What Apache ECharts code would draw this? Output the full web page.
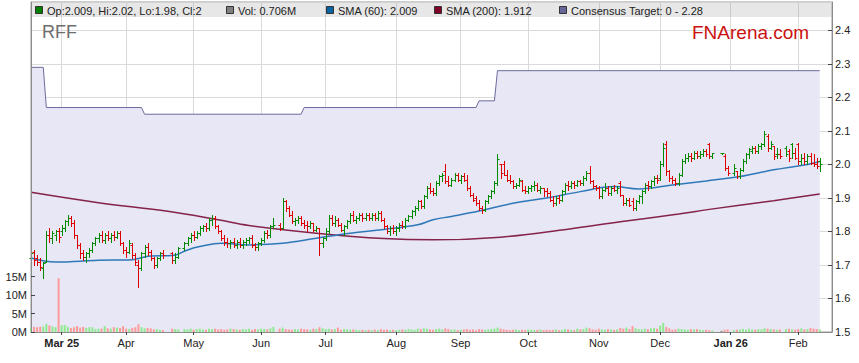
<!DOCTYPE html>
<html><head><meta charset="utf-8">
<script src="https://cdn.jsdelivr.net/npm/echarts@6/dist/echarts.min.js"></script>
<style>html,body{margin:0;padding:0;background:#fff}#c{width:859px;height:363px}</style>
</head><body><div id="c"></div>
<script>
// ---------- DATA ----------
const firstDate = '2025-02-17';   // first weekday slot
const slotCount = 262;            // weekday slots on the axis (incl. padding at the end)
const open = [
1.72,1.74,1.72,1.71,1.69, 1.71,1.79,1.78,1.79,1.80, 1.80,1.81,1.83,1.84,1.825, 1.79,1.76,1.735,1.725,1.735,
1.745,1.765,1.78,1.79,1.775, 1.79,1.78,1.79,1.785,1.795, 1.765,1.745,1.74,1.76,1.73, 1.70,1.69,1.735,1.755,1.74,
1.72,1.70,1.72,1.735,null, null,1.735,1.715,1.725,null, 1.75,1.765,1.78,1.79,1.785, 1.795,1.81,1.815,1.81,1.835,
1.84,1.815,1.80,1.78,1.77, 1.765,1.77,1.76,1.77,1.76, 1.77,1.775,1.78,1.76,1.755, 1.765,1.775,1.795,1.79,1.815,
null,1.82,1.81,1.89,1.87, 1.85,1.83,1.835,1.84,1.825, 1.82,1.815,1.825,1.805,1.81, 1.765,1.78,1.80,1.84,1.825,
1.835,1.82,1.805,1.815,1.83, 1.85,1.835,1.84,1.85,1.84, 1.85,1.84,1.85,1.84,1.855, 1.835,1.815,1.80,1.81,1.80,
1.81,1.82,1.815,1.835,1.845, 1.86,1.87,1.89,1.875,1.905, 1.93,1.92,1.915,1.945,1.965, 1.98,1.95,1.94,1.955,1.97,
1.955,1.965,1.955,1.93,1.91, 1.90,1.885,1.87,1.865,1.89, 1.905,1.92,1.945,2.00,2.00, 1.97,1.955,1.95,1.935,1.94,
1.95,1.925,1.92,1.93,1.935, 1.94,1.925,1.93,1.92,1.915, 1.895,1.885,1.90,1.895,1.92, 1.94,1.935,1.945,1.94,1.95,
1.945,1.96,1.975,1.95,1.935, 1.93,1.905,1.925,1.93,1.915, 1.93,1.925,1.945,1.91,1.885, 1.895,1.89,1.87,1.89,1.905,
1.92,1.94,1.935,1.95,1.96, 1.96,2.00,2.06,1.98,1.96, 1.955,1.945,1.97,2.01,2.02, 2.025,2.02,2.035,2.025,2.03,
2.04,2.06,2.025,null,null, 2.035,2.025,1.99,null,1.975, 1.98,1.965,1.985,2.01,2.03, 2.04,2.05,2.04,2.055,2.06,
2.085,2.05,2.055,2.03,2.03, null,2.05,2.04,2.06,2.035, 2.06,2.01,2.02,2.01,2.025, 2.005,2.0,2.009];
const high = [
1.74,1.745,1.73,1.72,1.71, 1.80,1.81,1.80,1.805,1.81, 1.82,1.835,1.848,1.845,1.835, 1.79,1.765,1.745,1.74,1.75,
1.77,1.785,1.795,1.80,1.795, 1.80,1.795,1.80,1.80,1.80, 1.77,1.755,1.775,1.765,1.735, 1.715,1.74,1.76,1.765,1.745,
1.725,1.725,1.74,1.745,null, null,1.74,1.735,1.755,null, 1.77,1.785,1.795,1.80,1.80, 1.815,1.82,1.825,1.84,1.848,
1.845,1.82,1.805,1.79,1.78, 1.775,1.78,1.775,1.78,1.775, 1.78,1.785,1.79,1.765,1.77, 1.78,1.80,1.805,1.82,1.84,
null,1.825,1.90,1.895,1.875, 1.86,1.84,1.845,1.845,1.835, 1.83,1.83,1.825,1.815,1.81, 1.785,1.81,1.85,1.85,1.845,
1.84,1.825,1.82,1.835,1.855, 1.86,1.845,1.855,1.855,1.855, 1.855,1.855,1.855,1.86,1.86, 1.84,1.82,1.815,1.82,1.815,
1.825,1.83,1.84,1.85,1.865, 1.875,1.895,1.895,1.91,1.935, 1.945,1.93,1.95,1.97,1.975, 2.00,1.965,1.96,1.975,1.975,
1.97,1.975,1.97,1.935,1.915, 1.905,1.895,1.875,1.895,1.91, 1.925,1.95,2.03,2.00,2.01, 1.985,1.97,1.955,1.945,1.96,
1.955,1.935,1.935,1.94,1.95, 1.945,1.935,1.93,1.93,1.92, 1.905,1.905,1.91,1.925,1.945, 1.95,1.95,1.95,1.955,1.955,
1.965,1.98,1.995,1.955,1.94, 1.935,1.93,1.945,1.935,1.935, 1.94,1.935,1.95,1.91,1.90, 1.90,1.90,1.895,1.91,1.925,
1.945,1.95,1.955,1.965,1.97, 2.01,2.065,2.07,1.985,1.965, 1.96,1.975,2.015,2.03,2.035, 2.035,2.04,2.04,2.04,2.045,
2.045,2.065,2.035,null,null, 2.035,2.03,1.995,null,2.0, 1.98,1.99,2.015,2.035,2.05, 2.055,2.055,2.06,2.065,2.10,
2.09,2.07,2.055,2.05,2.045, null,2.055,2.045,2.065,2.05, 2.065,2.03,2.035,2.03,2.035, 2.03,2.02,2.02];
const low = [
1.71,1.70,1.70,1.685,1.66, 1.71,1.77,1.765,1.775,1.77, 1.79,1.80,1.82,1.815,1.78, 1.75,1.72,1.715,1.71,1.725,
1.74,1.76,1.77,1.77,1.765, 1.775,1.77,1.775,1.78,1.76, 1.735,1.725,1.735,1.72,1.70, 1.635,1.685,1.725,1.73,1.715,
1.69,1.695,1.715,1.72,null, null,1.705,1.705,1.72,null, 1.745,1.76,1.77,1.775,1.78, 1.79,1.80,1.80,1.805,1.82,
1.81,1.795,1.775,1.76,1.755, 1.75,1.755,1.75,1.755,1.75, 1.76,1.765,1.755,1.745,1.745, 1.76,1.77,1.78,1.785,1.81,
null,1.805,1.81,1.86,1.845, 1.825,1.82,1.825,1.82,1.81, 1.80,1.81,1.80,1.80,1.73, 1.755,1.775,1.795,1.82,1.815,
1.815,1.80,1.79,1.81,1.825, 1.83,1.825,1.835,1.83,1.835, 1.835,1.835,1.835,1.835,1.83, 1.81,1.795,1.79,1.795,1.79,
1.80,1.81,1.81,1.83,1.84, 1.85,1.865,1.87,1.87,1.90, 1.915,1.91,1.91,1.94,1.95, 1.945,1.935,1.935,1.95,1.95,
1.945,1.95,1.925,1.905,1.89, 1.88,1.865,1.855,1.86,1.885, 1.90,1.915,1.94,1.96,1.97, 1.95,1.945,1.93,1.93,1.935,
1.92,1.915,1.915,1.92,1.925, 1.92,1.915,1.905,1.905,1.89, 1.875,1.88,1.885,1.89,1.915, 1.925,1.93,1.93,1.935,1.94,
1.94,1.955,1.945,1.93,1.925, 1.90,1.90,1.92,1.91,1.91, 1.92,1.915,1.905,1.88,1.88, 1.875,1.865,1.865,1.885,1.885,
1.915,1.925,1.93,1.94,1.945, 1.955,1.995,1.97,1.95,1.945, 1.94,1.94,1.965,2.005,2.01, 2.01,2.015,2.02,2.02,2.025,
2.025,2.02,2.02,null,null, 2.035,1.985,1.97,null,1.97, 1.96,1.96,1.98,2.005,2.02, 2.035,2.035,2.035,2.045,2.055,
2.04,2.045,2.015,2.02,2.02, null,2.025,2.01,2.02,2.015, 2.0,2.0,2.0,2.0,2.0, 1.995,1.99,1.98];
const close = [
1.735,1.715,1.71,1.695,1.705, 1.79,1.78,1.795,1.80,1.785, 1.81,1.83,1.84,1.825,1.79, 1.76,1.735,1.725,1.735,1.745,
1.765,1.78,1.79,1.775,1.79, 1.78,1.79,1.785,1.795,1.765, 1.745,1.74,1.765,1.73,1.71, 1.69,1.735,1.755,1.74,1.72,
1.70,1.72,1.735,1.73,null, null,1.715,1.725,1.75,null, 1.765,1.78,1.79,1.785,1.795, 1.81,1.815,1.81,1.835,1.84,
1.815,1.80,1.78,1.77,1.765, 1.77,1.76,1.77,1.76,1.77, 1.775,1.78,1.76,1.755,1.765, 1.775,1.795,1.79,1.815,1.82,
null,1.81,1.89,1.87,1.85, 1.83,1.835,1.84,1.825,1.82, 1.815,1.825,1.805,1.81,1.765, 1.78,1.80,1.84,1.825,1.835,
1.82,1.805,1.815,1.83,1.85, 1.835,1.84,1.85,1.84,1.85, 1.84,1.85,1.84,1.855,1.835, 1.815,1.80,1.81,1.80,1.81,
1.82,1.815,1.835,1.845,1.86, 1.87,1.89,1.875,1.905,1.93, 1.92,1.915,1.945,1.965,1.97, 1.95,1.94,1.955,1.97,1.955,
1.965,1.955,1.93,1.91,1.895, 1.885,1.87,1.865,1.89,1.905, 1.92,1.945,2.015,1.975,1.97, 1.955,1.95,1.935,1.94,1.955,
1.925,1.92,1.93,1.935,1.94, 1.925,1.93,1.92,1.915,1.895, 1.885,1.90,1.895,1.92,1.94, 1.935,1.945,1.94,1.95,1.945,
1.96,1.975,1.95,1.935,1.93, 1.905,1.925,1.93,1.915,1.93, 1.925,1.93,1.91,1.885,1.895, 1.88,1.87,1.89,1.905,1.92,
1.94,1.935,1.95,1.96,1.955, 2.0,2.05,1.98,1.96,1.955, 1.945,1.97,2.01,2.02,2.025, 2.02,2.035,2.025,2.03,2.04,
2.03,2.025,2.035,null,null, 2.035,1.99,1.975,null,1.99, 1.965,1.985,2.01,2.03,2.045, 2.05,2.04,2.055,2.06,2.09,
2.05,2.06,2.025,2.03,2.025, null,2.03,2.02,2.035,2.02, 2.01,2.02,2.01,2.025,2.005, 2.0,1.995,2.0];
const volume = [ // millions
1.3,1.4,1.3,1.4,1.5, 2.2,1.8,1.5,1.3,14.6, 1.8,1.9,1.4,1.1,1.3, 1.6,1.2,1.4,1.1,1.3,
1.3,0.8,0.9,0.9,1.6, 1.0,0.9,1.3,1.2,1.1, 1.6,0.9,0.8,1.1,1.3, 2.1,1.3,1.0,1.1,1.0,
0.7,0.8,0.6,0.5,null, null,0.9,0.8,0.7,null, 0.8,0.7,0.9,0.6,0.8, 0.9,0.7,0.6,0.9,0.8,
0.9,0.7,0.8,0.6,0.7, 0.9,0.8,0.7,0.6,0.8, 0.7,0.9,0.6,0.8,0.7, 0.9,0.8,0.7,1.0,1.4,
null,0.9,1.2,0.8,0.7, 0.6,0.8,0.7,0.9,0.8, 0.7,0.6,0.9,0.8,1.3, 1.0,0.8,0.9,0.7,0.8,
1.2,0.6,0.8,0.7,0.6, 0.7,0.6,0.5,0.6,0.5, 0.6,0.5,0.7,0.5,0.8, 0.6,0.7,0.5,0.6,0.5,
0.6,0.7,0.6,0.8,0.7, 0.6,0.9,0.8,1.0,0.9, 0.7,0.6,0.8,0.9,0.7, 1.0,0.8,0.6,0.7,0.5,
0.6,0.7,0.8,0.6,0.7, 0.5,0.8,0.7,0.6,0.7, 0.8,0.9,1.2,0.9,0.7, 0.6,0.5,0.6,0.7,0.5,
0.6,0.5,0.7,0.6,0.5, 0.6,0.7,0.5,0.6,0.5, 0.6,0.7,0.5,0.6,0.8, 0.7,0.6,0.5,0.9,0.7,
0.8,1.2,1.0,0.7,0.6, 0.9,0.7,0.6,0.8,0.7, 0.6,0.7,1.1,0.9,1.2, 0.8,1.6,1.0,0.8,0.7,
0.9,0.8,1.0,1.0,0.9, 1.7,2.5,1.4,1.0,0.6, 0.7,0.9,0.8,0.7,0.6, 0.8,0.7,0.8,0.6,0.5,
0.6,0.5,0.4,null,null, 0.3,0.6,0.7,null,0.5, 0.6,0.7,0.8,0.6,0.9, 0.7,0.6,0.8,0.7,1.0,
0.9,0.8,0.7,0.6,0.7, null,0.8,0.9,0.7,0.6, 0.8,1.0,0.7,0.8,1.1, 0.9,0.8,0.706];
// [slot index, value] samples
const sma60 = [[0,1.721],[8,1.709],[22,1.714],[33,1.716],[39,1.727],[46,1.728],[51,1.745],[55,1.755],[62,1.765],
[71,1.76],[82,1.765],[93,1.78],[104,1.795],[115,1.806],[126,1.82],[131,1.835],[137,1.845],[146,1.861],[157,1.884],
[168,1.90],[179,1.919],[190,1.934],[198,1.927],[209,1.939],[220,1.951],[231,1.964],[242,1.984],[253,2.0],[257,2.009]];
const sma200 = [[0,1.917],[22,1.886],[44,1.861],[61,1.835],[71,1.818],[93,1.795],[115,1.779],[131,1.775],[153,1.783],
[175,1.807],[192,1.829],[211,1.852],[221,1.866],[242,1.892],[257,1.912]];
const target = [[0,2.29],[4,2.29],[5,2.17],[36,2.17],[37,2.15],[88,2.15],[89,2.17],[145,2.17],[146,2.19],[151,2.19],[152,2.28],[257,2.28]];
const monthNames = ['Jan','Feb','Mar','Apr','May','Jun','Jul','Aug','Sep','Oct','Nov','Dec'];
const headerItems = [
  {label:'Op:2.009, Hi:2.02, Lo:1.98, Cl:2', color:'#008000', x:35},
  {label:'Vol: 0.706M', color:'#808080', x:226},
  {label:'SMA (60): 2.009', color:'#0a64a4', x:326},
  {label:'SMA (200): 1.912', color:'#800028', x:434},
  {label:'Consensus Target: 0 - 2.28', color:'#66669a', x:559}
];

// ---------- BUILD ----------
const dates = [];
{
  const d = new Date(firstDate + 'T00:00:00Z');
  while (dates.length < slotCount) {
    const wd = d.getUTCDay();
    if (wd !== 0 && wd !== 6) dates.push(d.toISOString().slice(0, 10));
    d.setUTCDate(d.getUTCDate() + 1);
  }
}
const isMonthStart = (i) => i > 0 && dates[i].slice(5, 7) !== dates[i - 1].slice(5, 7);
const firstTick = dates.findIndex((d, k) => isMonthStart(k));
const GREEN = '#008a00', RED = '#dd0000';
const ohlc = [], vols = [];
let prev = null;
for (let i = 0; i < close.length; i++) {
  if (close[i] == null) continue;
  let dir = prev == null ? (close[i] >= open[i] ? 1 : -1) : (close[i] > prev ? 1 : (close[i] < prev ? -1 : 0));
  prev = close[i];
  ohlc.push([i, open[i], high[i], low[i], close[i], dir]);
  vols.push({value: [i, volume[i]], itemStyle: {color: dir > 0 ? '#8fea8f' : (dir < 0 ? '#ff9a9a' : '#868686')}});
}

const FONT = '"Liberation Sans", Arial, sans-serif';
const chart = echarts.init(document.getElementById('c'), null, {renderer: 'svg'});
const graphics = [
  {type:'rect', shape:{x:31, y:2.5, width:800.5, height:14.5}, style:{fill:'rgba(140,140,140,0.21)'}, z:50, silent:true},
  {type:'text', x:42, y:32, style:{text:'RFF', font:'18px ' + FONT, fill:'#6e6e6e', textVerticalAlign:'middle'}, z:50},
  {type:'text', x:692, y:32, style:{text:'FNArena.com', font:'19px ' + FONT, fill:'#cc1111', textVerticalAlign:'middle'}, z:50}
];
headerItems.forEach(h => {
  graphics.push({type:'rect', shape:{x:h.x + 0.5, y:6.5, width:7, height:7}, style:{fill:h.color, stroke:'#333', lineWidth:1}, z:51});
  graphics.push({type:'text', x:h.x + 12, y:10.5, style:{text:h.label, font:'11px ' + FONT, fill:'#222', textVerticalAlign:'middle'}, z:51});
});

const axisGrey = '#8c8c8c';
chart.setOption({
  animation: false,
  backgroundColor: '#fff',
  grid: [
    {left:31, right:27, top:2, bottom:31, show:true, borderColor:'#9a9a9a', borderWidth:1, backgroundColor:'transparent'},
    {left:31, right:27, bottom:31, height:55.3}
  ],
  xAxis: [
    {type:'category', gridIndex:0, data:dates, boundaryGap:false,
     axisLine:{show:false}, axisTick:{show:false}, axisLabel:{show:false},
     splitLine:{show:true, interval:(i) => isMonthStart(i), lineStyle:{color:'#dadada', width:1}}},
    {type:'category', gridIndex:1, data:dates, boundaryGap:false, z:10,
     axisLine:{show:true, lineStyle:{color:axisGrey}},
     axisTick:{show:true, inside:false, length:3, interval:(i) => isMonthStart(i), lineStyle:{color:'#444'}},
     axisLabel:{show:true, interval:(i) => isMonthStart(i), margin:5, color:'#222', fontSize:11, fontFamily:FONT,
       formatter:(v, i) => {
         const m = +v.slice(5, 7) - 1, y = v.slice(2, 4);
         return (m === 0 || i === firstTick) ? '{b|' + monthNames[m] + ' ' + y + '}' : monthNames[m];
       },
       rich:{b:{fontWeight:'bold', fontSize:11, fontFamily:FONT, color:'#222'}}},
     splitLine:{show:false}}
  ],
  yAxis: [
    {type:'value', gridIndex:0, position:'right', min:1.5, max:2.485, interval:0.1,
     axisLine:{show:true, lineStyle:{color:axisGrey}},
     axisTick:{show:true, inside:true, length:4, lineStyle:{color:'#444'}},
     axisLabel:{margin:3, color:'#222', fontSize:11, fontFamily:FONT, showMaxLabel:false,
       formatter:(v) => Math.abs(v * 10 - Math.round(v * 10)) < 1e-6 ? v.toFixed(1) : ''},
     splitLine:{show:true, lineStyle:{color:'#dadada', width:1}}},
    {type:'value', gridIndex:1, position:'left', min:0, max:15, interval:5, z:10,
     axisLine:{show:false},
     axisTick:{show:true, inside:true, length:4, lineStyle:{color:'#444'}},
     axisLabel:{margin:4, color:'#222', fontSize:11, fontFamily:FONT, formatter:'{value}M'},
     splitLine:{show:false}},
    {type:'value', gridIndex:0, position:'left', min:1.5, max:2.485, z:10,
     axisLine:{show:true, lineStyle:{color:axisGrey}}, axisTick:{show:false}, axisLabel:{show:false}, splitLine:{show:false}}
  ],
  graphic: graphics,
  series: [
    {type:'line', name:'Consensus Target', xAxisIndex:0, yAxisIndex:0, data:target, symbol:'none', z:1,
     lineStyle:{color:'#6b6b9c', width:1}, areaStyle:{color:'#e7e7f6', opacity:1, origin:'start'}},
    {type:'bar', name:'Vol', xAxisIndex:1, yAxisIndex:1, data:vols, barWidth:2, z:2},
    {type:'line', name:'SMA (200)', xAxisIndex:0, yAxisIndex:0, data:sma200, symbol:'none', smooth:0.4, z:3,
     lineStyle:{color:'#85234a', width:1.5}},
    {type:'line', name:'SMA (60)', xAxisIndex:0, yAxisIndex:0, data:sma60, symbol:'none', smooth:0.4, z:3,
     lineStyle:{color:'#2f78b8', width:1.5}},
    {type:'custom', name:'OHLC', xAxisIndex:0, yAxisIndex:0, data:ohlc, z:4,
     encode:{x:0, y:[1, 2, 3, 4]},
     renderItem:(params, api) => {
       const i = api.value(0);
       const pO = api.coord([i, api.value(1)]), pH = api.coord([i, api.value(2)]);
       const pL = api.coord([i, api.value(3)]), pC = api.coord([i, api.value(4)]);
       const color = api.value(5) >= 0 ? GREEN : RED;
       const x = Math.round(pO[0]) + 0.5;
       const yo = Math.round(pO[1]) + 0.5, yc = Math.round(pC[1]) + 0.5;
       let yh = Math.round(pH[1]), yl = Math.round(pL[1]) + 1;
       if (yl - yh < 2) yl = yh + 2;
       const st = {stroke:color, lineWidth:1};
       return {type:'group', children:[
         {type:'line', shape:{x1:x, y1:yh, x2:x, y2:yl}, style:st},
         {type:'line', shape:{x1:x - 2, y1:yo, x2:x, y2:yo}, style:st},
         {type:'line', shape:{x1:x, y1:yc, x2:x + 2, y2:yc}, style:st}
       ]};
     }}
  ]
});
</script></body></html>
